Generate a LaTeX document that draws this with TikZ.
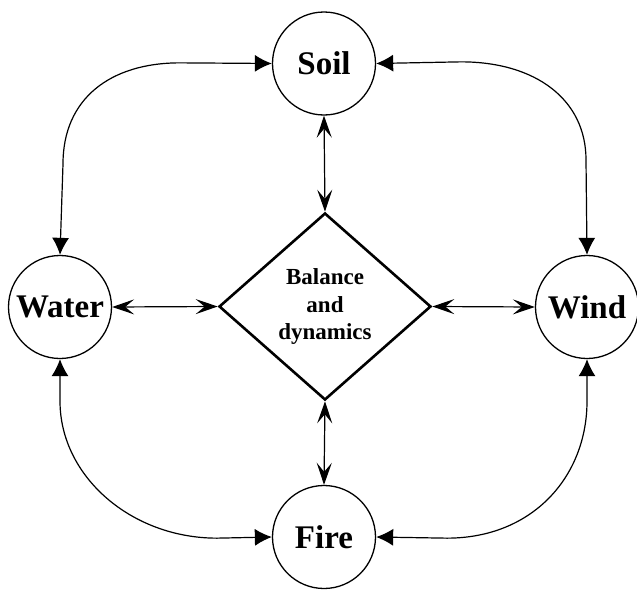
\documentclass[tikz,border=0pt]{standalone}
\usepackage{fontspec}
\setmainfont{Liberation Serif}
\usetikzlibrary{shapes.geometric,arrows.meta}
\begin{document}
\begin{tikzpicture}[x=1pt,y=-1pt,
  elem/.style={circle,draw,line width=1.3pt,minimum size=103pt,inner sep=0pt,
    font=\fontsize{33}{33}\selectfont\bfseries},
  core/.style={diamond,draw,line width=2.6pt,minimum width=212pt,minimum height=187pt,
    inner sep=0pt,align=center,font=\fontsize{23}{27.5}\selectfont\bfseries},
  curvearr/.style={line width=1.2pt,{Latex[length=17pt,width=17pt]}-{Latex[length=17pt,width=17pt]}},
  straightarr/.style={line width=1.2pt,{Stealth[length=22pt,width=15pt,inset=9pt]}-{Stealth[length=22pt,width=15pt,inset=9pt]}}
]
\useasboundingbox (0,0) rectangle (637,589);
\node[elem] (soil) at (324,63.5) {Soil};
\node[elem] (water) at (60,307) {Water};
\node[elem] (wind) at (587,307) {Wind};
\node[elem] (fire) at (324,537) {Fire};
\node[core] (bal) at (325,306.5) {Balance\\and\\dynamics};

\draw[straightarr] (soil.south) -- (bal.north);
\draw[straightarr] (bal.south) -- (fire.north);
\draw[straightarr] (water.east) -- (bal.west);
\draw[straightarr] (bal.east) -- (wind.west);

\draw[curvearr] (water.north) -- ++(3,-91) .. controls ++(0,-65) and ++(-70,0) .. ++(117,-101) -- (soil.west);
\draw[curvearr] (wind.north) -- ++(-1,-95) .. controls ++(0,-60) and ++(75,0) .. ++(-125,-98) -- (soil.east);
\draw[curvearr] (water.south) -- ++(0,42) .. controls ++(0,75) and ++(-86,0) .. ++(157,137) -- (fire.west);
\draw[curvearr] (wind.south) -- ++(0,42) .. controls ++(0,75) and ++(86,0) .. ++(-140,137) -- (fire.east);
\end{tikzpicture}
\end{document}
